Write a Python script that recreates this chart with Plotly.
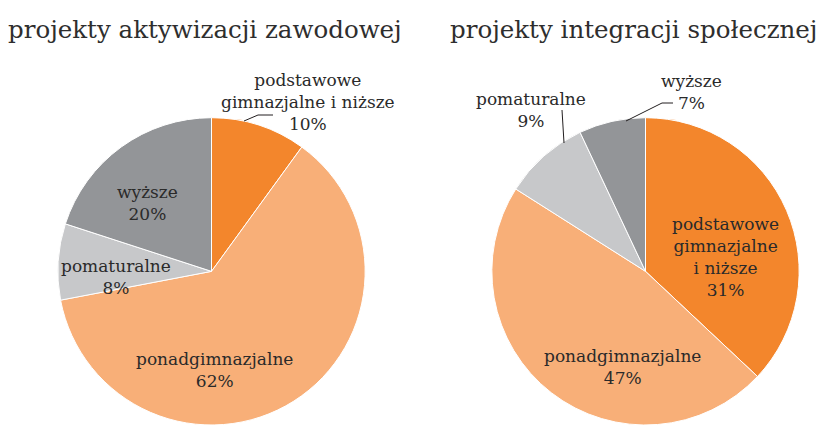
"""
Two pie charts: education level of participants in two project types
"""

import plotly.graph_objs as go

W, H = 818, 425

categories = ["podstawowe gimnazjalne i niższe", "ponadgimnazjalne", "pomaturalne", "wyższe"]
colors = ["#F3862C", "#F8AF78", "#C7C8CA", "#939598"]

left_title = "projekty aktywizacji zawodowej"
left_values = [10, 62, 8, 20]
left_text = ["10%", "62%", "8%", "20%"]

right_title = "projekty integracji społecznej"
# slice sizes as drawn; the printed labels differ slightly (31% on the orange slice)
right_values = [37, 47, 9, 7]
right_text = ["31%", "47%", "9%", "7%"]

label_font = dict(family="DejaVu Serif", size=17, color="#2A2A2A")
title_font = dict(family="DejaVu Serif", size=24.5, color="#2E2E2E")


def px(x, y):
    """pixel position -> paper coordinates (no margins)"""
    return x / W, 1 - y / H


def pie(values, text, x0, x1):
    return go.Pie(
        labels=categories,
        values=values,
        text=text,
        sort=False,
        direction="clockwise",
        rotation=0,
        textinfo="none",
        hovertemplate="%{label}: %{text}<extra></extra>",
        marker=dict(colors=colors, line=dict(color="white", width=1)),
        domain=dict(x=[x0 / W, x1 / W], y=[0, 1 - 117.7 / H]),
        showlegend=False,
    )


def label(x, y, txt):
    ax, ay = px(x, y)
    return dict(x=ax, y=ay, xref="paper", yref="paper", text=txt, showarrow=False,
                xanchor="center", yanchor="middle", align="center", font=label_font)


def title(x, y, txt):
    ax, ay = px(x, y)
    return dict(x=ax, y=ay, xref="paper", yref="paper", text=txt, showarrow=False,
                xanchor="left", yanchor="middle", font=title_font)


def leader(points):
    path = ""
    for i, (x, y) in enumerate(points):
        ax, ay = px(x, y)
        path += ("M" if i == 0 else "L") + " {} {} ".format(ax, ay)
    return dict(type="path", xref="paper", yref="paper", path=path.strip(),
                line=dict(color="#231F20", width=1))


fig = go.Figure(data=[
    pie(left_values, left_text, 56.5, 366.5),
    pie(right_values, right_text, 490.5, 800.5),
])

annotations = [
    title(6, 30, left_title),
    title(448, 30, right_title),
    # left pie
    label(308, 102, "podstawowe<br>gimnazjalne i niższe<br>" + left_text[0]),
    label(214, 370, "ponadgimnazjalne<br>" + left_text[1]),
    label(116, 277, "pomaturalne<br>" + left_text[2]),
    label(147, 203, "wyższe<br>" + left_text[3]),
    # right pie
    label(725, 257, "podstawowe<br>gimnazjalne<br>i niższe<br>" + right_text[0]),
    label(622, 367, "ponadgimnazjalne<br>" + right_text[1]),
    label(531, 110, "pomaturalne<br>" + right_text[2]),
    label(691, 92, "wyższe<br>" + right_text[3]),
]

shapes = [
    leader([(244, 121), (258, 115), (273, 115)]),
    leader([(626, 121), (662, 103), (673, 103)]),
    leader([(562, 110), (564, 143)]),
]

fig.update_layout(
    width=W,
    height=H,
    margin=dict(l=0, r=0, t=0, b=0),
    paper_bgcolor="white",
    plot_bgcolor="white",
    annotations=annotations,
    shapes=shapes,
)

# drop the default 8px page margin so the figure sits at the window origin
fig.write_html("out.html", config={"displayModeBar": False},
               post_script="document.body.style.margin='0';")
